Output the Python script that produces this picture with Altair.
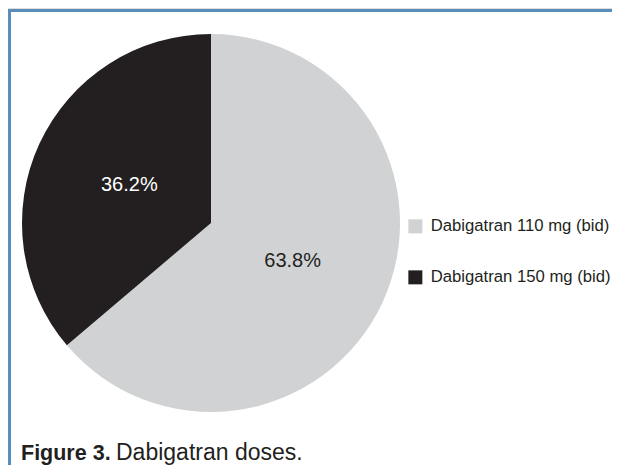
import altair as alt
import pandas as pd

categories = ["Dabigatran 110 mg (bid)", "Dabigatran 150 mg (bid)"]
values = [63.8, 36.2]
slice_colors = ["#d1d2d4", "#231f20"]
label_colors = ["#231f20", "#ffffff"]

caption_bold = "Figure 3."
caption_rest = "Dabigatran doses."

df = pd.DataFrame({"dose": categories, "value": values, "lc": label_colors})
one = pd.DataFrame({"k": [0]})

W, H = 604, 457
CX, CY, R = 203, 215, 189
FONT = "Liberation Sans"
BORDER = "#5b8db9"

base = alt.Chart(df)

pie = base.mark_arc(radius=R, stroke=None).encode(
    theta=alt.Theta("value:Q", stack=True),
    color=alt.Color(
        "dose:N",
        scale=alt.Scale(domain=categories, range=slice_colors),
        legend=alt.Legend(
            title=None,
            orient="none",
            legendX=399,
            legendY=210,
            symbolType="square",
            symbolSize=196,
            symbolStrokeWidth=0,
            labelFontSize=16.7,
            labelFont=FONT,
            labelColor="#231f20",
            labelOffset=7,
            rowPadding=33,
            padding=0,
            labelLimit=400,
        ),
    ),
    order=alt.Order("dose:N", sort="ascending"),
    x=alt.value(CX),
    y=alt.value(CY),
)

labels = base.transform_calculate(
    label="format(datum.value, '.1f') + '%'"
).mark_text(radius=90, font=FONT, fontSize=20, align="center", baseline="middle").encode(
    theta=alt.Theta("value:Q", stack=True),
    order=alt.Order("dose:N", sort="ascending"),
    text="label:N",
    color=alt.Color("lc:N", scale=None),
    x=alt.value(CX),
    y=alt.value(CY),
)

ones = alt.Chart(one)
top_line = ones.mark_rule(color=BORDER, strokeWidth=3).encode(
    x=alt.value(0), x2=alt.value(W), y=alt.value(2.5)
)
left_line = ones.mark_rule(color=BORDER, strokeWidth=3).encode(
    x=alt.value(1.5), y=alt.value(1), y2=alt.value(H)
)

cap1 = ones.mark_text(
    text=caption_bold, font=FONT, fontSize=21.5, fontWeight="bold",
    align="left", baseline="alphabetic", color="#231f20"
).encode(x=alt.value(13), y=alt.value(452))
cap2 = ones.mark_text(
    text=caption_rest, font=FONT, fontSize=23,
    align="left", baseline="alphabetic", color="#231f20"
).encode(x=alt.value(108), y=alt.value(452))

chart = alt.layer(pie, labels, top_line, left_line, cap1, cap2).properties(
    width=W, height=H, autosize=alt.AutoSizeParams(type="none"), padding=0
).configure_view(stroke=None).configure(background="white")

chart.save("out.html", embed_options={"renderer": "svg", "actions": False})
